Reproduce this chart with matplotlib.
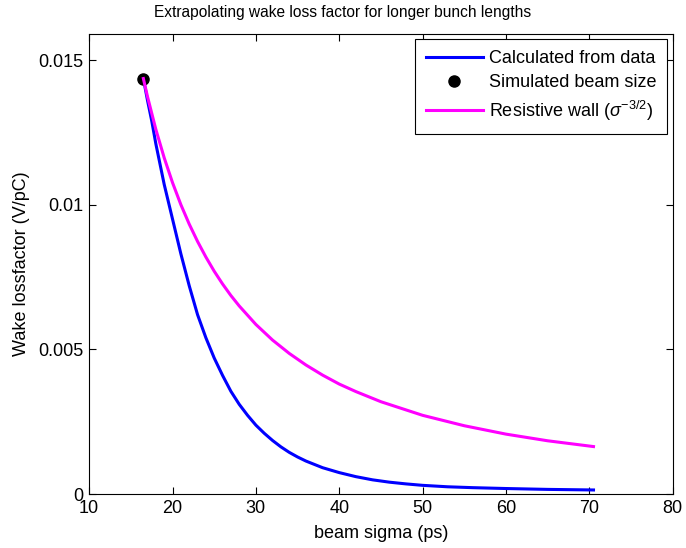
import matplotlib
matplotlib.use('Agg')
import matplotlib.pyplot as plt

plt.rcParams['font.family'] = ['Liberation Sans', 'DejaVu Sans']
plt.rcParams['mathtext.fontset'] = 'custom'
plt.rcParams['mathtext.rm'] = 'Liberation Sans'
plt.rcParams['mathtext.it'] = 'Liberation Sans:italic'
plt.rcParams['font.size'] = 13

# values
sigma_calc = [16.5, 17, 17.5, 18, 18.5, 19, 19.5, 20, 20.5, 21, 22, 23, 24, 25, 26, 27, 28,
              29, 30, 31, 32, 33, 34, 35, 36, 38, 40, 42, 44, 46, 48, 50, 53, 56, 60, 65, 70.5]
k_calc = [0.01436, 0.0136, 0.0129, 0.0121, 0.0114, 0.0107, 0.0101, 0.0095, 0.0089, 0.0083,
          0.0072, 0.0062, 0.0054, 0.0047, 0.0041, 0.00355, 0.0031, 0.00272, 0.00238, 0.0021,
          0.00185, 0.00163, 0.00144, 0.00128, 0.00114, 0.00091, 0.00074, 0.0006, 0.00049,
          0.00041, 0.00035, 0.0003, 0.00025, 0.00022, 0.00019, 0.00016, 0.00014]

sigma_sim = [16.5]
k_sim = [0.01436]

sigma_rw = [16.5, 17, 18, 19, 20, 21, 22, 23, 24, 25, 26, 27, 28, 30, 32, 34, 36, 38, 40,
            42, 45, 50, 55, 60, 65, 70.5]
k_rw = [0.01436, 0.01373, 0.0126, 0.01162, 0.01076, 0.0100, 0.00933, 0.00873, 0.00819,
        0.0077, 0.00726, 0.00686, 0.0065, 0.00586, 0.00532, 0.00486, 0.00446, 0.00411,
        0.0038, 0.00354, 0.00319, 0.00272, 0.00236, 0.00207, 0.00184, 0.00164]

fig = plt.figure(figsize=(6.86, 5.48), dpi=100)
ax = fig.add_axes([0.130, 0.0985, 0.8506, 0.8395])

ax.plot(sigma_calc, k_calc, color='#0000ff', lw=2.2, label='Calculated from data')
ax.plot(sigma_sim, k_sim, 'o', color='black', ms=8, label='Simulated beam size')
ax.plot(sigma_rw, k_rw, color='#ff00ff', lw=2.2, label=r'Resistive wall ($\sigma^{-3/2}$)')

ax.set_xlim(10, 80)
ax.set_ylim(0, 0.0159)
ax.set_xticks([10, 20, 30, 40, 50, 60, 70, 80])
ax.set_yticks([0, 0.005, 0.01, 0.015])
ax.set_yticklabels(['0', '0.005', '0.01', '0.015'])
ax.tick_params(direction='in', top=True, right=True, length=5, width=0.8, pad=4)

ax.set_xlabel('beam sigma (ps)', labelpad=6)
ax.set_ylabel('Wake lossfactor (V/pC)', labelpad=6)
fig.text(0.5, 0.978, 'Extrapolating wake loss factor for longer bunch lengths',
         ha='center', va='center', fontsize=11.2)

leg = ax.legend(loc='upper right', handlelength=3.15, fancybox=False, edgecolor='black',
                framealpha=1, borderaxespad=0.3, labelspacing=0.4, handletextpad=0.35,
                borderpad=0.6)
leg.get_frame().set_linewidth(0.8)

fig.savefig('out.png', dpi=100)
